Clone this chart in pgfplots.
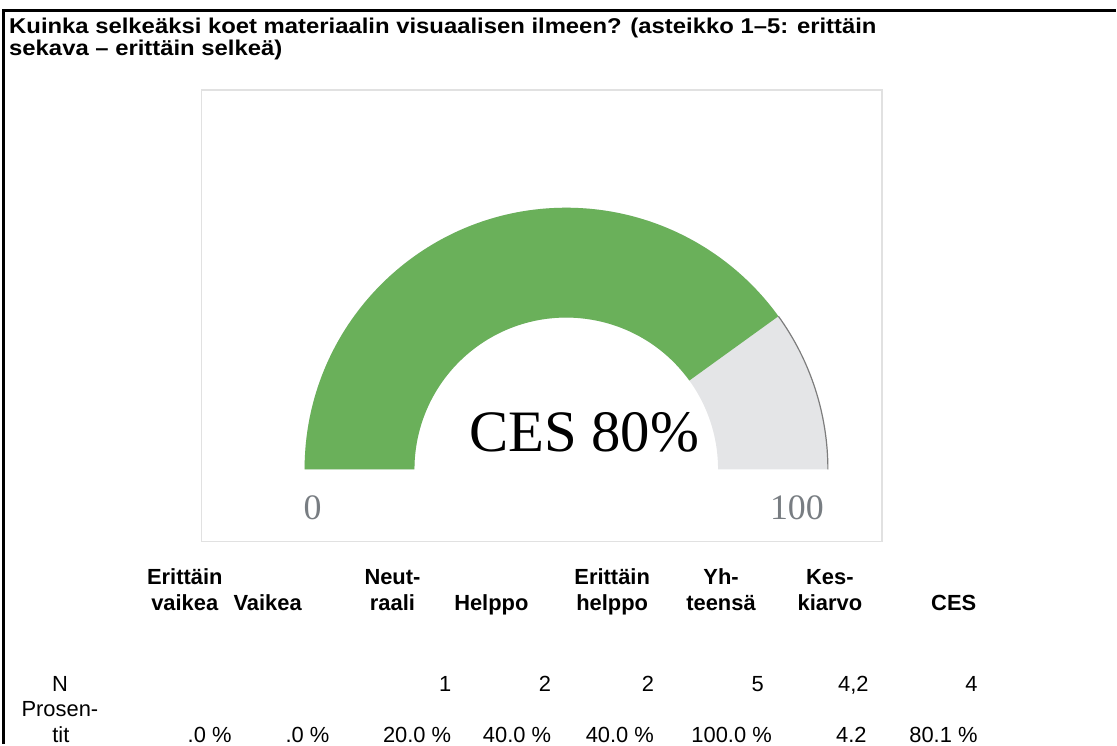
\documentclass[border=0pt]{standalone}
\usepackage{fontspec}
\setmainfont{Liberation Sans}
\newfontfamily\seriffont{Liberation Serif}
\usepackage{pgfplots}
\usepackage{pgfplotstable}
\pgfplotsset{compat=1.18}
\definecolor{gaugegreen}{RGB}{106,176,90}
\definecolor{gaugegray}{RGB}{228,229,231}
\definecolor{edgegray}{RGB}{125,125,125}
\definecolor{boxgray}{RGB}{225,225,225}
\definecolor{labelgray}{RGB}{120,125,130}

% gauge value (CES)
\pgfplotstableread{
value
80.1
}\gaugedata

% table: right edge of N, right edge of percent, N, percent
\pgfplotstableread[col sep=comma]{
xn,xp,n,pct
232,232,,.0 \%
330,330,,.0 \%
452,452,1,20.0 \%
552,552,2,40.0 \%
655,655,2,40.0 \%
765,773,5,100.0 \%
870,868,{4,2},4.2
979,979,4,80.1 \%
}\tabledata

\begin{document}
\begin{tikzpicture}
\begin{axis}[scale only axis, width=1117bp, height=745bp,
  xmin=0, xmax=1117, ymin=0, ymax=745, hide axis, clip=false]
% full picture area
\path (axis cs:0,0) rectangle (axis cs:1117,745);
% frame
\draw[line width=3bp] (axis cs:1117,734.5) -- (axis cs:4,734.5) -- (axis cs:4,0);
% title
\begin{scope}[every node/.style={anchor=base west, inner sep=0pt, xscale=1.115, font=\bfseries\fontsize{21.5}{23}\selectfont}]
\node at (axis cs:9,711) {Kuinka selkeäksi koet materiaalin visuaalisen ilmeen? (asteikko 1–5: erittäin};
\node at (axis cs:9,689) {sekava – erittäin selkeä)};
\end{scope}
% gauge box
\draw[draw=boxgray, line width=1.5bp] (axis cs:202,203) rectangle (axis cs:883,655);
% gauge
\pgfplotstablegetelem{0}{value}\of\gaugedata
\pgfmathsetmacro\ang{180-1.8*\pgfplotsretval}
\fill[gaugegray] (axis cs:567,275) ++(180:262bp) arc[start angle=180,end angle=0,radius=262bp]
   -- ++(180:110bp) arc[start angle=0,end angle=180,radius=152bp] -- cycle;
\fill[gaugegreen] (axis cs:567,275) ++(180:262bp) arc[start angle=180,end angle=\ang,radius=262bp]
   -- ++(\ang:-110bp) arc[start angle=\ang,end angle=180,radius=152bp] -- cycle;
\draw[edgegray, line width=1.2bp] (axis cs:567,275) ++(\ang:262bp) arc[start angle=\ang,end angle=0,radius=262bp];
\node[font=\seriffont\fontsize{59}{61}\selectfont] at (axis cs:585,312) {CES 80\%};
\node[font=\seriffont\fontsize{36}{38}\selectfont, text=labelgray] at (axis cs:313,237) {0};
\node[font=\seriffont\fontsize{36}{38}\selectfont, text=labelgray] at (axis cs:798,237) {100};
% table headers
\begin{scope}[every node/.style={anchor=base, inner sep=0pt, font=\bfseries\fontsize{22}{24}\selectfont}]
\node at (axis cs:185,160) {Erittäin}; \node at (axis cs:185,134) {vaikea};
\node at (axis cs:268,134) {Vaikea};
\node at (axis cs:393,160) {Neut-}; \node at (axis cs:393,134) {raali};
\node at (axis cs:492,134) {Helppo};
\node at (axis cs:613,160) {Erittäin}; \node at (axis cs:613,134) {helppo};
\node at (axis cs:722,160) {Yh-}; \node at (axis cs:722,134) {teensä};
\node at (axis cs:831,160) {Kes-}; \node at (axis cs:831,134) {kiarvo};
\node at (axis cs:955,134) {CES};
\end{scope}
\begin{scope}[every node/.style={anchor=base, inner sep=0pt, font=\fontsize{22}{24}\selectfont}]
\node at (axis cs:60,53) {N};
\node at (axis cs:60,28) {Prosen-};
\node at (axis cs:61,1.5) {tit};
\end{scope}
\pgfplotstablegetrowsof{\tabledata}
\pgfmathtruncatemacro\nrows{\pgfplotsretval-1}
\pgfplotsforeachungrouped \i in {0,...,\nrows}{%
  \pgfplotstablegetelem{\i}{xn}\of\tabledata \let\xn\pgfplotsretval
  \pgfplotstablegetelem{\i}{xp}\of\tabledata \let\xp\pgfplotsretval
  \pgfplotstablegetelem{\i}{n}\of\tabledata \let\nn\pgfplotsretval
  \pgfplotstablegetelem{\i}{pct}\of\tabledata \let\pp\pgfplotsretval
  \edef\temp{\noexpand\node[anchor=base east, inner sep=0pt, font=\noexpand\fontsize{22}{24}\noexpand\selectfont] at (axis cs:\xn,53) {\expandafter\unexpanded\expandafter{\nn}};
    \noexpand\node[anchor=base east, inner sep=0pt, font=\noexpand\fontsize{22}{24}\noexpand\selectfont] at (axis cs:\xp,1.5) {\expandafter\unexpanded\expandafter{\pp}};}%
  \temp
}
\end{axis}
\end{tikzpicture}
\end{document}
